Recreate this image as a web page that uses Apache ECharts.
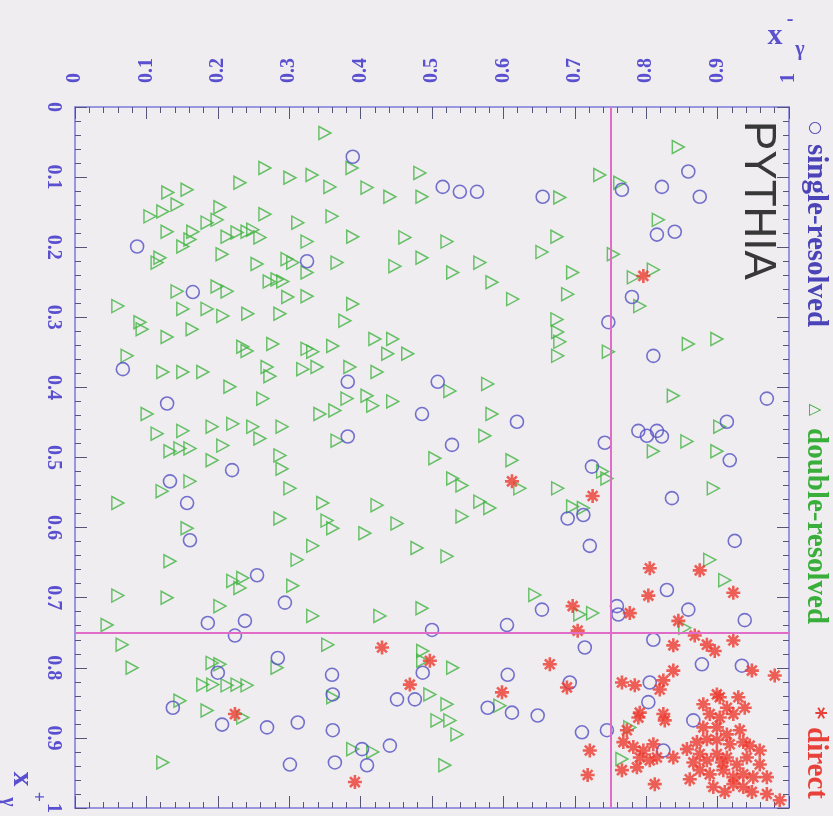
<!DOCTYPE html>
<html>
<head>
<meta charset="utf-8">
<script src="https://cdn.jsdelivr.net/npm/echarts@6/dist/echarts.min.js"></script>
<style>
  html, body { margin: 0; padding: 0; background: #efedf0; }
  #chart { width: 833px; height: 816px; }
</style>
</head>
<body>
<div id="chart"></div>
<script>
// Event samples in the (x_gamma^-, x_gamma^+) plane, PYTHIA.
// Each point: [x_gamma_minus, x_gamma_plus]
const singleResolved = [
  [0.389,0.071],[0.515,0.114],[0.539,0.121],[0.563,0.121],[0.087,0.199],[0.325,0.220],
  [0.165,0.264],[0.067,0.374],[0.129,0.423],[0.382,0.392],[0.508,0.392],[0.486,0.438],
  [0.382,0.470],[0.528,0.482],[0.859,0.092],[0.822,0.114],[0.875,0.128],[0.766,0.118],
  [0.655,0.128],[0.815,0.182],[0.840,0.178],[0.780,0.271],[0.747,0.307],[0.810,0.355],
  [0.969,0.416],[0.913,0.449],[0.789,0.462],[0.801,0.469],[0.815,0.462],[0.822,0.470],
  [0.619,0.449],[0.742,0.479],[0.220,0.518],[0.133,0.534],[0.157,0.565],[0.161,0.618],
  [0.255,0.668],[0.294,0.707],[0.186,0.736],[0.238,0.733],[0.224,0.754],[0.500,0.746],
  [0.284,0.786],[0.200,0.807],[0.360,0.810],[0.361,0.838],[0.137,0.857],[0.206,0.881],
  [0.269,0.885],[0.312,0.878],[0.361,0.889],[0.451,0.845],[0.476,0.845],[0.487,0.807],
  [0.402,0.916],[0.441,0.911],[0.409,0.939],[0.301,0.938],[0.364,0.935],[0.917,0.504],
  [0.724,0.513],[0.836,0.558],[0.690,0.587],[0.712,0.582],[0.721,0.626],[0.924,0.619],
  [0.829,0.689],[0.759,0.712],[0.761,0.724],[0.859,0.717],[0.654,0.717],[0.605,0.739],
  [0.938,0.732],[0.810,0.760],[0.714,0.771],[0.606,0.810],[0.878,0.795],[0.934,0.797],
  [0.693,0.821],[0.805,0.821],[0.803,0.849],[0.578,0.857],[0.612,0.864],[0.648,0.868],
  [0.866,0.875],[0.710,0.892],[0.745,0.889],[0.824,0.918]
];

const doubleResolved = [
  [0.350,0.037],[0.388,0.087],[0.266,0.087],[0.301,0.101],[0.332,0.097],[0.357,0.114],
  [0.231,0.108],[0.409,0.115],[0.441,0.128],[0.483,0.094],[0.486,0.128],[0.105,0.156],
  [0.123,0.149],[0.143,0.139],[0.157,0.118],[0.130,0.122],[0.203,0.143],[0.266,0.153],
  [0.312,0.165],[0.360,0.156],[0.129,0.178],[0.165,0.178],[0.185,0.165],[0.199,0.161],
  [0.151,0.199],[0.161,0.189],[0.213,0.185],[0.227,0.179],[0.241,0.178],[0.249,0.175],
  [0.259,0.186],[0.325,0.192],[0.389,0.185],[0.462,0.186],[0.521,0.192],[0.486,0.215],
  [0.448,0.227],[0.529,0.236],[0.115,0.222],[0.119,0.215],[0.206,0.210],[0.255,0.224],
  [0.297,0.217],[0.305,0.222],[0.367,0.222],[0.272,0.249],[0.283,0.246],[0.291,0.249],
  [0.325,0.236],[0.199,0.256],[0.213,0.263],[0.143,0.263],[0.060,0.284],[0.298,0.271],
  [0.325,0.270],[0.389,0.281],[0.151,0.288],[0.185,0.288],[0.207,0.298],[0.242,0.295],
  [0.287,0.295],[0.091,0.307],[0.094,0.317],[0.129,0.328],[0.164,0.317],[0.378,0.305],
  [0.235,0.342],[0.241,0.348],[0.277,0.338],[0.325,0.345],[0.333,0.349],[0.361,0.341],
  [0.420,0.331],[0.445,0.331],[0.438,0.352],[0.466,0.352],[0.073,0.355],[0.123,0.378],
  [0.151,0.378],[0.179,0.378],[0.269,0.371],[0.273,0.384],[0.319,0.374],[0.339,0.371],
  [0.385,0.371],[0.423,0.378],[0.525,0.405],[0.217,0.399],[0.263,0.416],[0.381,0.416],
  [0.409,0.412],[0.417,0.426],[0.445,0.420],[0.343,0.438],[0.364,0.433],[0.101,0.438],
  [0.115,0.466],[0.151,0.462],[0.192,0.456],[0.221,0.452],[0.249,0.456],[0.259,0.473],
  [0.290,0.456],[0.367,0.476],[0.845,0.057],[0.735,0.097],[0.763,0.108],[0.679,0.129],
  [0.817,0.161],[0.675,0.185],[0.654,0.207],[0.754,0.210],[0.567,0.222],[0.584,0.250],
  [0.697,0.236],[0.782,0.243],[0.810,0.232],[0.613,0.274],[0.690,0.267],[0.791,0.284],
  [0.675,0.303],[0.676,0.321],[0.679,0.335],[0.676,0.355],[0.747,0.349],[0.899,0.331],
  [0.859,0.338],[0.578,0.395],[0.838,0.412],[0.584,0.438],[0.574,0.469],[0.903,0.456],
  [0.857,0.477],[0.207,0.483],[0.133,0.491],[0.147,0.487],[0.161,0.487],[0.192,0.504],
  [0.287,0.497],[0.290,0.516],[0.301,0.544],[0.161,0.534],[0.122,0.548],[0.060,0.565],
  [0.157,0.601],[0.347,0.565],[0.423,0.568],[0.451,0.594],[0.353,0.590],[0.361,0.601],
  [0.406,0.608],[0.479,0.629],[0.521,0.641],[0.504,0.501],[0.529,0.530],[0.287,0.587],
  [0.333,0.626],[0.311,0.646],[0.133,0.648],[0.221,0.676],[0.235,0.672],[0.231,0.686],
  [0.305,0.683],[0.203,0.712],[0.060,0.697],[0.129,0.700],[0.333,0.726],[0.427,0.726],
  [0.486,0.715],[0.045,0.739],[0.066,0.767],[0.354,0.767],[0.080,0.800],[0.192,0.793],
  [0.203,0.795],[0.283,0.800],[0.179,0.824],[0.193,0.824],[0.213,0.825],[0.227,0.824],
  [0.241,0.825],[0.147,0.847],[0.185,0.861],[0.235,0.871],[0.487,0.776],[0.487,0.790],
  [0.497,0.838],[0.521,0.852],[0.507,0.875],[0.525,0.875],[0.535,0.895],[0.529,0.800],
  [0.361,0.842],[0.389,0.916],[0.417,0.920],[0.123,0.935],[0.518,0.939],[0.612,0.504],
  [0.542,0.540],[0.567,0.563],[0.581,0.572],[0.542,0.584],[0.623,0.544],[0.676,0.544],
  [0.739,0.520],[0.745,0.530],[0.697,0.570],[0.712,0.572],[0.810,0.491],[0.899,0.491],
  [0.894,0.544],[0.889,0.646],[0.910,0.675],[0.644,0.696],[0.707,0.724],[0.725,0.722],
  [0.854,0.743],[0.595,0.854],[0.777,0.885],[0.766,0.930]
];

const direct = [
  [0.796,0.241],[0.430,0.771],[0.497,0.790],[0.469,0.824],[0.224,0.866],[0.392,0.963],
  [0.612,0.534],[0.725,0.555],[0.697,0.712],[0.777,0.722],[0.704,0.747],[0.805,0.658],
  [0.875,0.661],[0.803,0.697],[0.922,0.693],[0.845,0.733],[0.868,0.754],[0.838,0.768],
  [0.885,0.767],[0.896,0.776],[0.922,0.761],[0.665,0.795],[0.838,0.804],[0.824,0.818],
  [0.819,0.831],[0.766,0.821],[0.784,0.825],[0.948,0.804],[0.980,0.811],[0.598,0.835],
  [0.689,0.828],[0.791,0.864],[0.789,0.871],[0.824,0.866],[0.826,0.875],[0.880,0.852],
  [0.899,0.838],[0.913,0.857],[0.938,0.857],[0.889,0.866],[0.903,0.871],[0.922,0.866],
  [0.880,0.885],[0.899,0.885],[0.913,0.895],[0.931,0.889],[0.885,0.902],[0.899,0.903],
  [0.917,0.909],[0.936,0.906],[0.768,0.906],[0.782,0.913],[0.796,0.918],[0.810,0.909],
  [0.857,0.916],[0.791,0.928],[0.805,0.932],[0.815,0.928],[0.787,0.942],[0.959,0.918],
  [0.875,0.923],[0.885,0.932],[0.899,0.923],[0.913,0.928],[0.927,0.938],[0.941,0.928],
  [0.875,0.946],[0.889,0.952],[0.908,0.946],[0.922,0.956],[0.936,0.952],[0.959,0.938],
  [0.950,0.956],[0.969,0.956],[0.721,0.918],[0.718,0.953],[0.812,0.966],[0.922,0.966],
  [0.936,0.970],[0.969,0.980],[0.987,0.989],[0.773,0.889],[0.838,0.928],[0.766,0.946],
  [0.903,0.842],[0.929,0.842],[0.871,0.906],[0.945,0.911],[0.894,0.970],[0.910,0.977],
  [0.866,0.935],[0.948,0.977],[0.861,0.959],[0.906,0.935]
];

// Cut values drawn as guide lines
const cutMinus = 0.75;
const cutPlus = 0.75;

// Legend entries: marker glyph, label, colour, start position along the right margin
const legendItems = [
  { mark: '\u25CB', markSize: 16, text: 'single-resolved', color: '#4a44b8', y: 128, textY: 144 },
  { mark: '\u25B3', markSize: 16, text: 'double-resolved', color: '#3aae3a', y: 410, textY: 428 },
  { mark: '*', markSize: 24, text: 'direct', color: '#e8413a', y: 713, textY: 727 }
];
const generatorLabel = 'PYTHIA';

const serif = "'Liberation Serif', 'DejaVu Serif', serif";
const axisBlue = '#5a4fcf';
const frameColor = '#7c78dc';
const tickColor = '#55557a';

function frameAxis(extra) {
  return Object.assign({
    type: 'value', min: 0, max: 1, interval: 0.1,
    axisLine: { show: true, onZero: false, lineStyle: { color: frameColor, width: 1.5 } },
    axisTick: { show: true, inside: true, length: 12, lineStyle: { color: tickColor, width: 1 } },
    minorTick: { show: true, splitNumber: 5, length: 6, lineStyle: { color: tickColor, width: 1 } },
    splitLine: { show: false },
    minorSplitLine: { show: false }
  }, extra);
}

const labelStyle = {
  color: axisBlue, fontFamily: serif, fontWeight: 'bold', fontSize: 20,
  rotate: -90, showMinLabel: true, showMaxLabel: true
};

const rightTriangle = 'path://M0,0L18,10L0,20Z';
const asterisk = 'path://M10,0L10,20M0,10L20,10M3,3L17,17M17,3L3,17';

const chart = echarts.init(document.getElementById('chart'), null, { renderer: 'canvas' });

const rotCW = -Math.PI / 2;

const legendGraphics = [];
legendItems.forEach(it => {
  legendGraphics.push({
    type: 'text', x: 815, y: it.y, rotation: rotCW, z: 10,
    style: { text: it.mark, fill: it.color, font: 'bold ' + it.markSize + "px 'DejaVu Sans', sans-serif",
             textAlign: 'center', textVerticalAlign: 'middle' }
  });
  legendGraphics.push({
    type: 'text', x: 815, y: it.textY, rotation: rotCW, z: 10,
    style: { text: it.text, fill: it.color, font: "bold 29px " + serif,
             textAlign: 'left', textVerticalAlign: 'middle' }
  });
});

chart.setOption({
  backgroundColor: '#efedf0',
  animation: false,
  grid: { left: 75, top: 107, width: 714, height: 704, containLabel: false },
  xAxis: [
    frameAxis({ position: 'top', axisLabel: Object.assign({ margin: 24 }, labelStyle) }),
    frameAxis({ position: 'bottom', axisLabel: { show: false } })
  ],
  yAxis: [
    frameAxis({ position: 'left', inverse: true, axisLabel: Object.assign({ margin: 12 }, labelStyle) }),
    frameAxis({ position: 'right', inverse: true, axisLabel: { show: false } })
  ],
  series: [
    {
      name: 'single-resolved', type: 'scatter', xAxisIndex: 0, yAxisIndex: 0,
      data: singleResolved, symbol: 'circle', symbolSize: 13,
      itemStyle: { color: 'rgba(0,0,0,0)', borderColor: '#5450c4', borderWidth: 1.6 },
      z: 3,
      markLine: {
        silent: true, symbol: 'none', animation: false,
        label: { show: false },
        lineStyle: { color: '#e06cc8', width: 2, type: 'solid' },
        data: [{ xAxis: cutMinus }, { yAxis: cutPlus }]
      }
    },
    {
      name: 'double-resolved', type: 'scatter', xAxisIndex: 0, yAxisIndex: 0,
      data: doubleResolved, symbol: rightTriangle, symbolSize: [12, 13],
      itemStyle: { color: 'rgba(0,0,0,0)', borderColor: '#44b444', borderWidth: 1.5 },
      z: 2
    },
    {
      name: 'direct', type: 'scatter', xAxisIndex: 0, yAxisIndex: 0,
      data: direct, symbol: asterisk, symbolSize: 14,
      itemStyle: { color: 'rgba(0,0,0,0)', borderColor: '#ec3b30', borderWidth: 2.6 },
      z: 4
    }
  ],
  graphic: [
    // generator name inside the frame
    {
      type: 'text', x: 779, y: 121, rotation: rotCW, z: 10,
      style: { text: generatorLabel, fill: '#383838', font: "44px 'Liberation Sans', Arial, sans-serif",
               textAlign: 'left', textVerticalAlign: 'top' }
    },
    // legend, reading top to bottom
    ...legendGraphics,
    // x_gamma^- title (upper right)
    { type: 'text', x: 775, y: 36, z: 10,
      style: { text: 'x', fill: axisBlue, font: 'bold 30px ' + serif, textAlign: 'center', textVerticalAlign: 'middle' } },
    { type: 'text', x: 790, y: 20, z: 10,
      style: { text: '-', fill: axisBlue, font: 'bold 20px ' + serif, textAlign: 'center', textVerticalAlign: 'middle' } },
    { type: 'text', x: 800, y: 50, z: 10,
      style: { text: '\u03B3', fill: axisBlue, font: 'bold 20px ' + serif, textAlign: 'center', textVerticalAlign: 'middle' } },
    // x_gamma^+ title (lower left), rotated
    { type: 'text', x: 22, y: 779, rotation: rotCW, z: 10,
      style: { text: 'x', fill: axisBlue, font: 'bold 30px ' + serif, textAlign: 'center', textVerticalAlign: 'middle' } },
    { type: 'text', x: 38, y: 797, rotation: rotCW, z: 10,
      style: { text: '+', fill: axisBlue, font: 'bold 18px ' + serif, textAlign: 'center', textVerticalAlign: 'middle' } },
    { type: 'text', x: 8, y: 802, rotation: rotCW, z: 10,
      style: { text: '\u03B3', fill: axisBlue, font: 'bold 20px ' + serif, textAlign: 'center', textVerticalAlign: 'middle' } }
  ]
});
</script>
</body>
</html>
